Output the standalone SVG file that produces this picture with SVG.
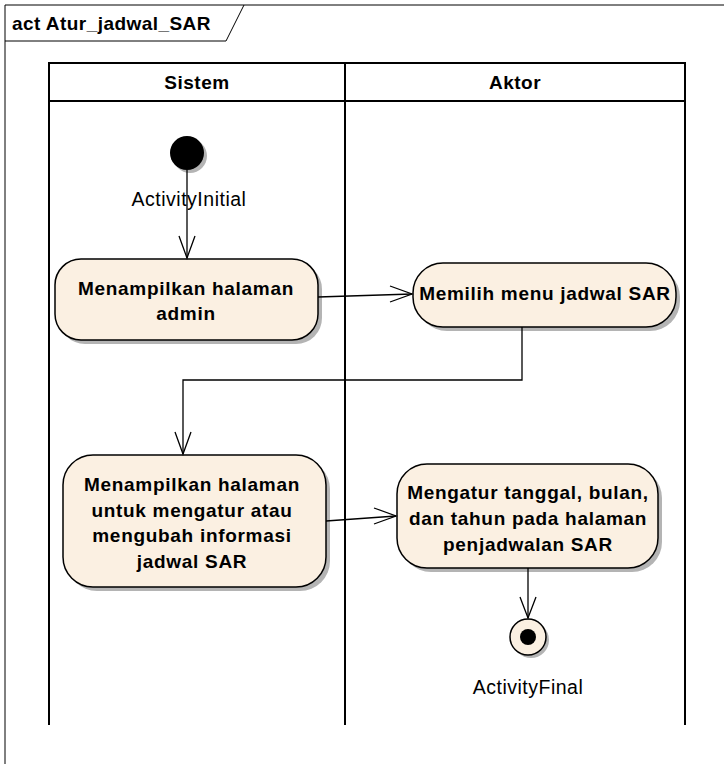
<svg xmlns="http://www.w3.org/2000/svg" width="724" height="764" viewBox="0 0 724 764">
<defs>
<style>
.frame{fill:none;stroke:#000;stroke-width:1}
.lane{fill:none;stroke:#000;stroke-width:2}
.act{fill:#fbf0e2;stroke:#000;stroke-width:1.5}
.sh{fill:#b4b4b4}
.edge{fill:none;stroke:#000;stroke-width:1.3}
.head{fill:none;stroke:#000;stroke-width:1.3}
.t{font-family:"Liberation Sans",Arial,sans-serif;font-size:19px;letter-spacing:0.7px;font-weight:bold;fill:#000;text-anchor:middle}
.lbl{font-family:"Liberation Sans",Arial,sans-serif;font-size:19.5px;letter-spacing:0.5px;fill:#000;text-anchor:middle}
.hd{font-family:"Liberation Sans",Arial,sans-serif;font-size:19px;letter-spacing:0.5px;font-weight:bold;fill:#000;text-anchor:middle}
</style>
</defs>
<rect width="724" height="764" fill="#fff"/>
<g id="frame">
<path class="frame" d="M5,770 V5 H730"/>
<path class="frame" d="M5,41 H226 L244,5"/>
<text x="12" y="30" font-family="Liberation Sans,Arial,sans-serif" font-size="19px" letter-spacing="0.45px" font-weight="bold">act Atur_jadwal_SAR</text>
</g>
<g id="lanes">
<path class="lane" d="M49,725 V63 H685 V725 M345,63 V725 M49,101 H685"/>
<text class="hd" x="197" y="89">Sistem</text>
<text class="hd" x="515" y="89">Aktor</text>
</g>
<g id="initial">
<circle cx="190" cy="156" r="17" fill="#b4b4b4"/>
<circle cx="187" cy="153" r="17" fill="#000"/>
<text class="lbl" x="189" y="206">ActivityInitial</text>
</g>
<g id="n1">
<rect class="sh" x="59" y="263" width="263" height="81" rx="26"/>
<rect class="act" x="55" y="259" width="263" height="81" rx="26"/>
<text class="t" x="186" y="295">Menampilkan halaman</text>
<text class="t" x="186" y="320">admin</text>
</g>
<g id="n2">
<rect class="sh" x="417" y="267" width="263" height="64" rx="30"/>
<rect class="act" x="413" y="263" width="263" height="64" rx="30"/>
<text class="t" x="545" y="300">Memilih menu jadwal SAR</text>
</g>
<g id="n3">
<rect class="sh" x="67" y="459" width="263" height="132" rx="30"/>
<rect class="act" x="63" y="455" width="263" height="132" rx="30"/>
<text class="t" x="192" y="491">Menampilkan halaman</text>
<text class="t" x="192" y="517">untuk mengatur atau</text>
<text class="t" x="192" y="542">mengubah informasi</text>
<text class="t" x="192" y="568">jadwal SAR</text>
</g>
<g id="n4">
<rect class="sh" x="401" y="468" width="261" height="104" rx="30"/>
<rect class="act" x="397" y="464" width="261" height="104" rx="30"/>
<text class="t" x="528" y="499">Mengatur tanggal, bulan,</text>
<text class="t" x="528" y="525">dan tahun pada halaman</text>
<text class="t" x="528" y="551">penjadwalan SAR</text>
</g>
<g id="final">
<circle cx="531" cy="640" r="18" fill="#b4b4b4"/>
<circle cx="528" cy="637" r="18" fill="#fbf0e2" stroke="#000" stroke-width="1.5"/>
<circle cx="528" cy="637" r="8" fill="#000"/>
<text class="lbl" x="528" y="694">ActivityFinal</text>
</g>
<g id="connectors">
<path class="edge" d="M187,170 V258"/>
<path class="head" d="M179,236 L187,258 L195,236"/>
<path class="edge" d="M318,297 L412,294"/>
<path class="head" d="M390,286 L412,294 L390,302"/>
<path class="edge" d="M522,327 V380 H183 V454"/>
<path class="head" d="M175,432 L183,454 L191,432"/>
<path class="edge" d="M326,521 L396,516"/>
<path class="head" d="M374,508 L396,516 L374,524"/>
<path class="edge" d="M528,568 V618"/>
<path class="head" d="M520,597 L528,618 L536,597"/>
</g>
</svg>
